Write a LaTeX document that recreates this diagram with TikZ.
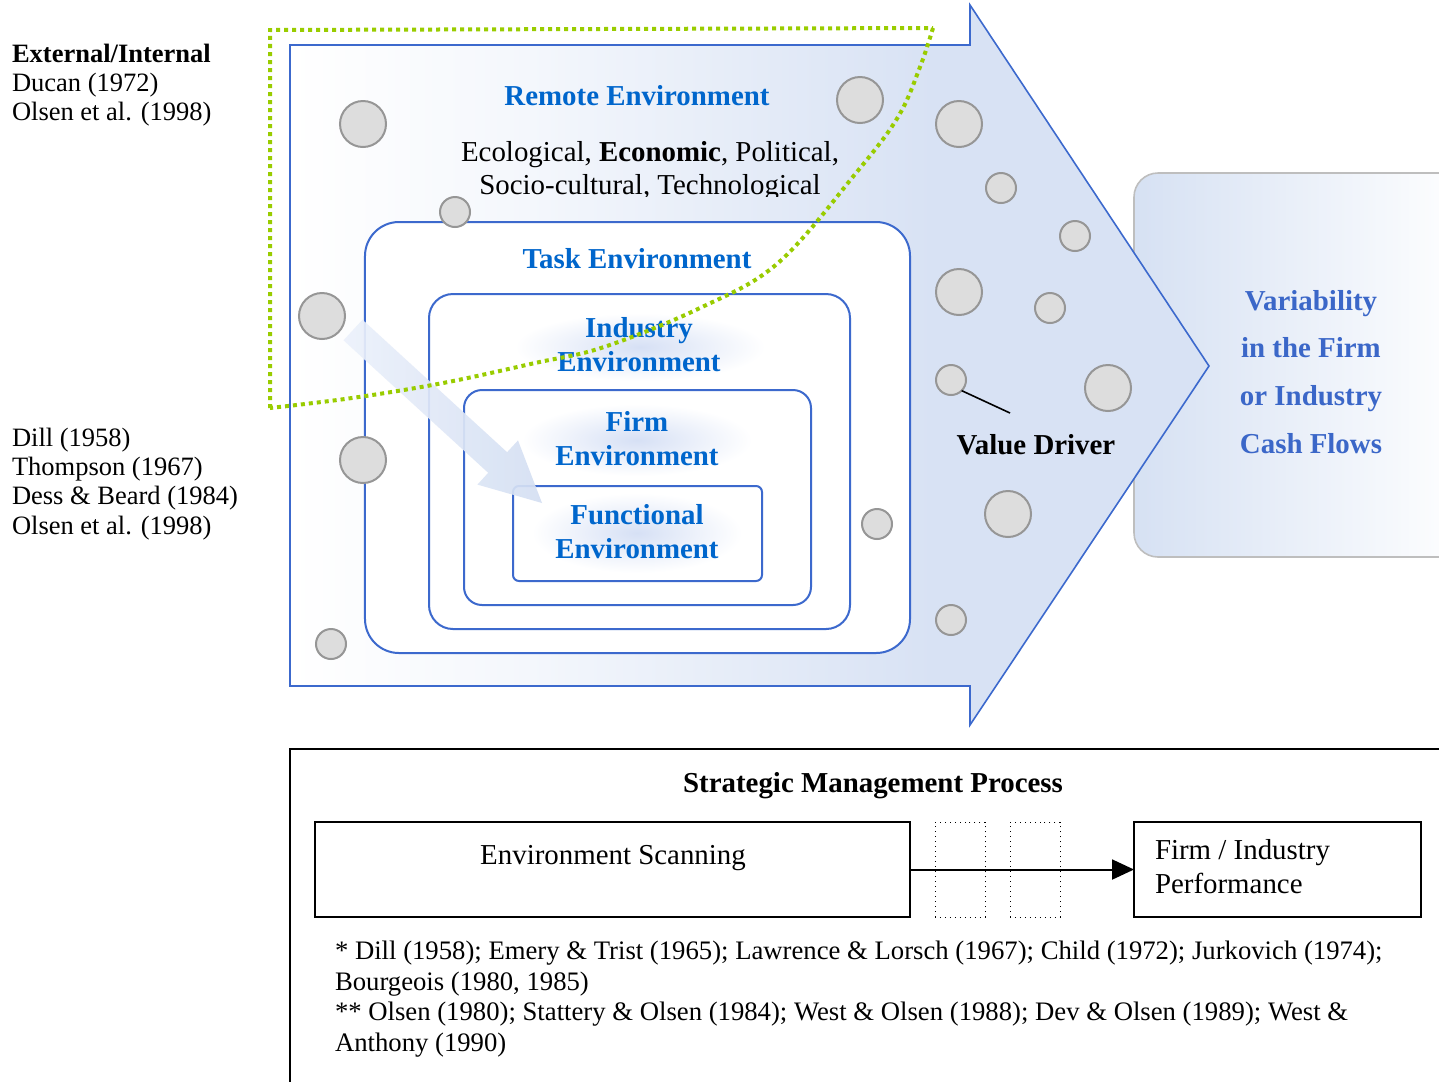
\documentclass[tikz,border=0pt]{standalone}
\usepackage{fontspec}
\setmainfont{Liberation Serif}
\usetikzlibrary{arrows.meta}

\definecolor{lineblue}{RGB}{60,105,205}
\definecolor{titleblue}{RGB}{0,102,204}
\definecolor{outblue}{RGB}{59,103,200}
\definecolor{shadeA}{RGB}{244,247,252}
\definecolor{shadeB}{RGB}{216,226,244}
\definecolor{arrowA}{RGB}{236,241,251}
\definecolor{arrowB}{RGB}{212,223,243}
\definecolor{outL}{RGB}{214,225,243}
\definecolor{glowblue}{RGB}{214,224,245}
\definecolor{bubblefill}{RGB}{221,221,221}
\definecolor{bubbleline}{RGB}{150,150,150}
\definecolor{boxgrey}{RGB}{190,190,190}
\definecolor{limegreen}{RGB}{153,204,0}

% horizontal fade of the large driver arrow (white on the left, pale blue on the right)
\pgfdeclarehorizontalshading{driftshade}{100bp}{color(0bp)=(white); color(25bp)=(white); color(38bp)=(shadeA); color(60bp)=(shadeB); color(100bp)=(shadeB)}

\begin{document}
\begin{tikzpicture}[x=0.5bp,y=-0.5bp,
  every node/.style={inner sep=0pt, outer sep=0pt},
  envbox/.style={draw=lineblue, line width=1bp, fill=white},
  envtitle/.style={text=titleblue, font=\fontsize{14.5}{17}\selectfont\bfseries, align=center},
  bubble/.style={circle, draw=bubbleline, line width=1bp, fill=bubblefill},
  big/.style={bubble, minimum size=23bp},
  small/.style={bubble, minimum size=15bp},
  plain/.style={font=\fontsize{14.5}{17}\selectfont},
  refs/.style={font=\fontsize{13.3}{14.6}\selectfont, align=left, anchor=west},
  procbox/.style={draw=black, line width=1bp},
  gapbox/.style={draw=black, line width=0.5bp, dotted, minimum width=25bp, minimum height=47.5bp},
  greenline/.style={draw=limegreen, line width=2bp, dash pattern=on 2bp off 2bp}
]
\useasboundingbox (0,0) rectangle (1439,1081);
\clip (0,0) rectangle (1439,1081);

% outcome panel on the right (sits behind the arrow tip)
\node[shade, left color=outL, right color=white, draw=boxgrey, line width=0.8bp,
      rounded corners=12bp, minimum width=168bp, minimum height=192bp] (outbox) at (1302,365) {};

% large driver arrow
\shadedraw[shading=driftshade, draw=lineblue, line width=0.8bp]
  (290,45) -- (970,45) -- (970,5) -- (1209,366) -- (970,725) -- (970,686) -- (290,686) -- cycle;

% nested environment boxes
\node[envbox, rounded corners=17bp, minimum width=272.5bp, minimum height=215.5bp] (task) at (637.5,437.5) {};
\node[envbox, rounded corners=12bp, minimum width=210.5bp, minimum height=167.5bp] (industry) at (639.5,461.5) {};
\shade[inner color=glowblue, outer color=white] (640,347) ellipse (125 and 34);
\node[envbox, rounded corners=9bp, minimum width=173.5bp, minimum height=107.5bp] (firm) at (637.5,497.5) {};
\shade[inner color=glowblue, outer color=white] (637,440) ellipse (115 and 36);
\node[envbox, rounded corners=3bp, minimum width=124.5bp, minimum height=47.5bp] (functional) at (637.5,533.5) {};
\shade[inner color=glowblue, outer color=white] (637,533) ellipse (105 and 40);

% value-driver bubbles
\node[big]   (c1)  at (363,124) {};
\node[big]   (c2)  at (860,100) {};
\node[big]   (c3)  at (959,124) {};
\node[small] (c4)  at (1001,188) {};
\node[small] (c5)  at (455,212) {};
\node[small] (c6)  at (1075,236) {};
\node[big]   (c7)  at (322,316) {};
\node[big]   (c8)  at (959,292) {};
\node[small] (c9)  at (1050,308) {};
\node[small] (c10) at (951,380) {};
\node[big]   (c11) at (1108,388) {};
\node[big]   (c12) at (363,460) {};
\node[small] (c13) at (877,524) {};
\node[big]   (c14) at (1008,514) {};
\node[small] (c15) at (951,620) {};
\node[small] (c16) at (331,644) {};

% environment labels
\node[envtitle] (remote) at (637,96) {Remote Environment};
\begin{scope}
  \clip (400,120) rectangle (900,196);
  \node[plain, align=center, font=\fontsize{14.5}{16.5}\selectfont] (factors) at (650,171)
    {Ecological, \textbf{Economic}, Political,\\Socio-cultural, Technological};
\end{scope}
\node[envtitle] (tasklabel) at (637,259) {Task Environment};
\node[envtitle] (industrylabel) at (639,345) {Industry\\Environment};
\node[envtitle] (firmlabel) at (637,439) {Firm\\Environment};
\node[envtitle] (functionallabel) at (637,532) {Functional\\Environment};

% value driver callout
\coordinate (vdtip) at (1010,413);
\draw[line width=0.8bp] (c10.south east) -- (vdtip);
\node[font=\fontsize{14.5}{17}\selectfont\bfseries] (valuedriver) at (1036,445) {Value Driver};

% outcome label
\node[text=outblue, font=\fontsize{14.5}{24}\selectfont\bfseries, align=center] (outcome) at (1311,372)
  {Variability\\in the Firm\\or Industry\\Cash Flows};

% inward arrow across the environments
\shade[left color=arrowA, right color=arrowB, fill opacity=0.92, draw=none]
  (362.5,319.7) -- (507.1,452.2) -- (518,440.4) -- (542,503) -- (477.4,484.6) -- (488.2,472.8) -- (343.5,340.3) -- cycle;

% external/internal boundary
\draw[greenline] (270,408) -- (270,30) -- (933,28)
  plot[smooth, tension=0.6] coordinates {(933,28) (920,67) (898,117) (856,173) (778,263) (700,308) (604,347) (535,363) (443,383) (352,398) (270,408)};

% literature on the left
\node[refs] (extrefs) at (12,85) {\textbf{External/Internal}\\Ducan (1972)\\Olsen et al. (1998)};
\node[refs] (intrefs) at (12,484) {Dill (1958)\\Thompson (1967)\\Dess \& Beard (1984)\\Olsen et al. (1998)};

% strategic management process panel
\draw[line width=1bp] (290,1100) -- (290,749) -- (1460,749);
\node[font=\fontsize{14.5}{17}\selectfont\bfseries] (smp) at (873,786) {Strategic Management Process};
\node[procbox, minimum width=297.5bp, minimum height=47.5bp] (scan) at (612.5,869.5) {};
\node[plain] (scanlabel) at (613,858) {Environment Scanning};
\node[gapbox] (gap1) at (960,869.5) {};
\node[gapbox] (gap2) at (1035,869.5) {};
\node[procbox, minimum width=143.5bp, minimum height=47.5bp] (perf) at (1277.5,869.5) {};
\node[plain, align=left, anchor=west] (perflabel) at (1155,867) {Firm / Industry\\Performance};
\draw[line width=1bp, -{Triangle[length=11bp,width=10bp]}] (scan.east) -- (perf.west);

\node[anchor=west, align=left, font=\fontsize{13.4}{15.3}\selectfont] (cites) at (335,999)
  {* Dill (1958); Emery \& Trist (1965); Lawrence \& Lorsch (1967); Child (1972); Jurkovich (1974);\\
   Bourgeois (1980, 1985)\\
   ** Olsen (1980); Stattery \& Olsen (1984); West \& Olsen (1988); Dev \& Olsen (1989); West \&\\
   Anthony (1990)};
\end{tikzpicture}
\end{document}
